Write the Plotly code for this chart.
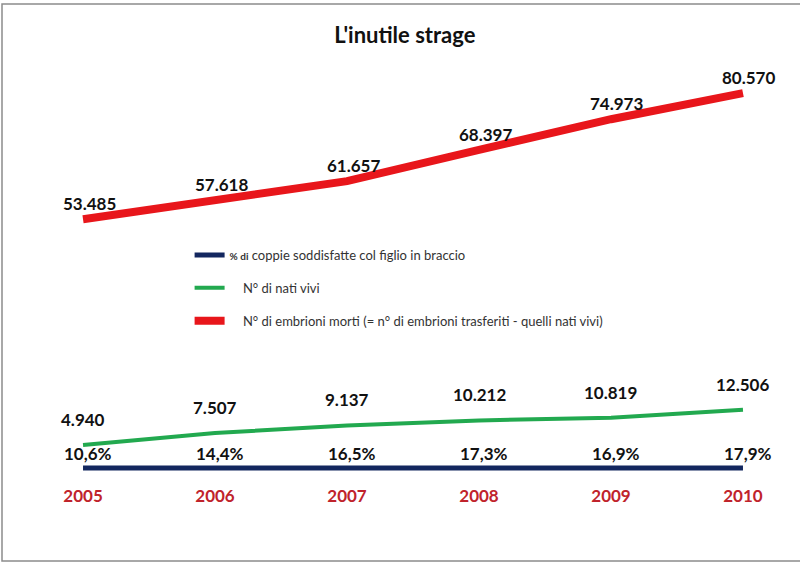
import plotly.graph_objects as go

anni = [2005, 2006, 2007, 2008, 2009, 2010]
coppie_pct = [10.6, 14.4, 16.5, 17.3, 16.9, 17.9]
nati_vivi = [4940, 7507, 9137, 10212, 10819, 12506]
embrioni_morti = [53485, 57618, 61657, 68397, 74973, 80570]

NAVY = "#13275f"
GREEN = "#22a94f"
RED = "#e8161b"
FONT = "Lato, 'Liberation Sans', sans-serif"


def fmt_num(v):
    return f"{v:,}".replace(",", ".")


def fmt_pct(v):
    return f"{v:.1f}%".replace(".", ",")


fig = go.Figure()

# percentuali sullo stesso asse dei conteggi (frazione -> praticamente a zero)
fig.add_trace(
    go.Scatter(
        x=anni,
        y=[p / 100 for p in coppie_pct],
        mode="lines",
        line=dict(color=NAVY, width=5),
        name="<span style='font-size:10px'><b>% di</b></span> coppie soddisfatte col figlio in braccio",
        legendgroup="a",
    )
)
fig.add_trace(
    go.Scatter(
        x=anni,
        y=nati_vivi,
        mode="lines",
        line=dict(color=GREEN, width=4),
        name="    N° di nati vivi",
        legendgroup="b",
    )
)
fig.add_trace(
    go.Scatter(
        x=anni,
        y=embrioni_morti,
        mode="lines",
        line=dict(color=RED, width=8),
        name="    N° di embrioni morti (= n° di embrioni trasferiti - quelli nati vivi)",
        legendgroup="c",
    )
)

label_font = dict(family=FONT, size=17, color="#111111")
annotations = []
for x, v in zip(anni, embrioni_morti):
    annotations.append(dict(x=x, y=v, text="<b>" + fmt_num(v) + "</b>", showarrow=False,
                            yanchor="bottom", yshift=3, xshift=6, font=label_font))
for x, v in zip(anni, nati_vivi):
    annotations.append(dict(x=x, y=v, text="<b>" + fmt_num(v) + "</b>", showarrow=False,
                            yanchor="bottom", yshift=13, xshift=0, font=label_font))
for x, p in zip(anni, coppie_pct):
    annotations.append(dict(x=x, y=p / 100, text="<b>" + fmt_pct(p) + "</b>", showarrow=False,
                            yanchor="bottom", yshift=2, xshift=5, font=label_font))

fig.update_layout(
    width=800,
    height=565,
    margin=dict(l=0, r=0, t=0, b=87),
    paper_bgcolor="white",
    plot_bgcolor="white",
    hovermode=False,
    title=dict(
        text="<b>L'inutile strage</b>",
        x=0.506,
        xanchor="center",
        y=1 - 35 / 565,
        yanchor="middle",
        font=dict(family=FONT, size=22, color="#111111"),
    ),
    xaxis=dict(
        range=[2004.371, 2010.432],
        tickvals=anni,
        ticktext=["<b>%d</b>" % a for a in anni],
        tickfont=dict(family=FONT, size=17, color="#c0232b"),
        showgrid=False,
        zeroline=False,
        showline=False,
        ticks="",
        ticklabelstandoff=6,
    ),
    yaxis=dict(
        range=[-2150, 100600],
        visible=False,
        showgrid=False,
    ),
    legend=dict(
        x=0.237,
        y=1 - 240 / 478,
        xanchor="left",
        yanchor="top",
        font=dict(family=FONT, size=13, color="#333333"),
        tracegroupgap=13,
        bgcolor="rgba(0,0,0,0)",
    ),
    annotations=annotations,
    shapes=[
        dict(
            type="rect",
            xref="paper",
            yref="paper",
            x0=2 / 800,
            x1=1.02,
            y0=(478 - 561) / 478,
            y1=1 - 4 / 478,
            line=dict(color="#8c8c8c", width=1.5),
        )
    ],
)

fig.write_html(
    "out.html",
    config={"displayModeBar": False},
    post_script="document.body.style.margin='0';",
)
